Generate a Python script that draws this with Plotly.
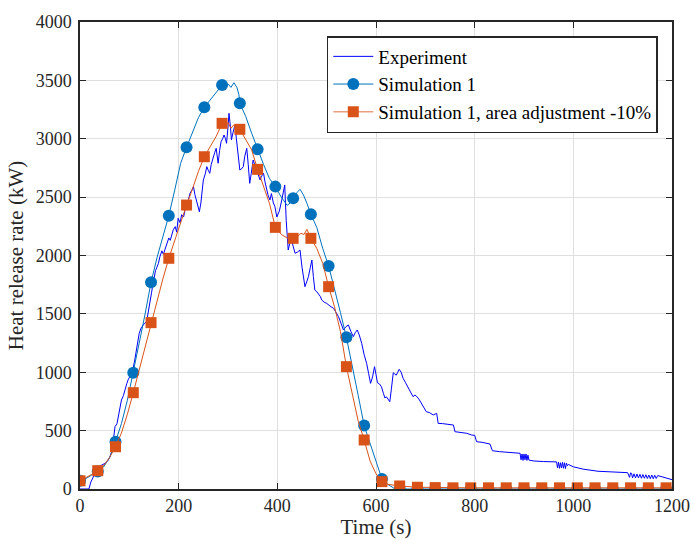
import plotly.graph_objects as go

# ---------------- data ----------------
exp_t = [0, 18, 22, 27, 32, 37, 44, 51, 56, 61, 65, 68, 71, 75, 80, 84, 88, 92, 95, 98,
         101, 104, 108, 111, 115, 118, 120, 124, 128, 131, 135, 139, 142, 145, 147, 150,
         153, 156, 159, 162, 166, 169, 172, 176, 180, 183, 186, 189, 193, 196, 199, 203,
         206, 210, 213, 217, 220, 223, 227, 230, 233, 236, 239, 242, 245, 248, 250, 254,
         257, 260, 263, 266, 270, 273, 276, 278, 280, 283, 286, 289, 292, 295, 297, 300,
         302, 305, 307, 310, 314, 317, 319, 321, 324, 327, 331, 334, 338, 341, 344, 347,
         351, 354, 358, 361, 365, 368, 372, 375, 378, 381, 385, 388, 392, 395, 399, 404,
         409, 412, 415, 418, 422, 425, 429, 432, 436, 441, 446, 450, 453, 456, 460, 463,
         467, 470, 473, 476, 480, 483, 487, 490, 495, 500, 505, 509, 514, 519, 524, 529,
         534, 539, 544, 549, 554, 558, 562, 566, 571, 576, 581, 585, 589, 593, 597, 600,
         603, 607, 611, 615, 618, 621, 624, 628, 631, 635, 638, 641, 644, 647, 651, 655,
         660, 665, 670, 675, 679, 682, 687, 692, 697, 702, 708, 716, 723, 726, 735, 745,
         757, 760, 770, 784, 794, 800, 804, 815, 831, 836, 850, 870, 888, 892, 894, 896,
         898, 900, 902, 904, 906, 908, 910, 915, 920, 940, 966, 968, 970, 972, 974, 976,
         978, 980, 982, 984, 986, 988, 990, 1000, 1020, 1050, 1081, 1110, 1114, 1116, 1118,
         1120, 1123, 1126, 1129, 1132, 1135, 1138, 1141, 1144, 1147, 1150, 1153, 1156, 1159,
         1162, 1165, 1168, 1171, 1175, 1180, 1185, 1190, 1196, 1200]
exp_v = [0, 0, 60, 105, 150, 190, 205, 220, 240, 277, 330, 420, 534, 560, 680, 762, 800, 870, 905, 940,
         962, 1000, 1040, 1105, 1200, 1290, 1333, 1380, 1405, 1420, 1433, 1520, 1590, 1680, 1733, 1800,
         1870, 1900, 1933, 1990, 2040, 2010, 2047, 2100, 2150, 2130, 2190, 2220, 2247, 2200, 2319, 2280,
         2350, 2330, 2390, 2420, 2480, 2533, 2560, 2589, 2520, 2475, 2420, 2375, 2450, 2580, 2647, 2700,
         2761, 2730, 2704, 2780, 2846, 2880, 2918, 2850, 2790, 2900, 2975, 3000, 3032, 3000, 2961, 3100,
         3218, 3100, 2990, 3050, 3118, 3000, 2932, 2850, 2732, 2740, 2761, 2850, 2918, 2780, 2618, 2700,
         2818, 2780, 2732, 2690, 2647, 2680, 2704, 2630, 2561, 2520, 2475, 2530, 2450, 2420, 2330, 2380,
         2475, 2550, 2604, 2300, 2047, 2100, 2133, 2080, 2019, 2030, 2047, 1900, 1800, 1733, 1780, 1819,
         1900, 1961, 1820, 1704, 1690, 1676, 1650, 1619, 1600, 1590, 1570, 1560, 1548, 1510, 1476, 1420,
         1362, 1390, 1405, 1350, 1305, 1340, 1362, 1320, 1248, 1150, 1076, 990, 905, 960, 1048, 980,
         910, 900, 876, 820, 780, 790, 770, 748, 850, 996, 985, 975, 1000, 1025, 1000, 948,
         910, 871, 830, 791, 805, 795, 770, 734, 700, 662, 655, 634, 648, 562, 560, 555,
         548, 491, 485, 477, 462, 460, 405, 400, 385, 328, 320, 315, 311, 306, 250, 300,
         245, 300, 250, 300, 245, 290, 248, 245, 240, 235, 232, 180, 230, 177, 225, 180,
         228, 178, 225, 175, 222, 200, 210, 190, 170, 152, 148, 140, 100, 138, 134,
         95, 130, 95, 128, 95, 126, 92, 124, 92, 122, 90, 120, 88, 120,
         88, 118, 90, 115, 110, 100, 95, 90, 83, 80]

sim1_t = [0, 12, 24, 36, 48, 60, 72, 84, 96, 108, 120, 132, 144, 156, 168, 180, 192, 204, 216,
          228, 240, 252, 264, 276, 288, 294, 300, 306, 312, 318, 322, 324, 336, 348, 360, 372,
          384, 396, 408, 420, 426, 432, 440, 446, 453, 460, 468, 480, 492, 504, 516, 528, 540,
          552, 564, 576, 588, 600, 612, 624, 636, 648, 684, 720, 756, 792, 828, 864, 900, 936,
          972, 1008, 1044, 1080, 1116, 1152, 1188, 1200]
sim1_v = [70, 90, 120, 150, 190, 270, 405, 560, 760, 996, 1250, 1500, 1770, 1980, 2160, 2341, 2560, 2790, 2927,
          3060, 3180, 3269, 3330, 3400, 3460, 3430, 3470, 3440, 3480, 3440, 3380, 3304, 3190, 3047, 2910, 2780,
          2660, 2590, 2500, 2430, 2450, 2490, 2540, 2567, 2518, 2447, 2353, 2240, 2060, 1910, 1720, 1510, 1299,
          1060, 800, 543, 380, 238, 86, 40, 8, 0, 0, 0, 0, 0, 0, 0, 0, 0,
          0, 0, 0, 0, 0, 0, 0, 0]

sim2_t = [0, 12, 24, 36, 48, 60, 72, 84, 96, 108, 120, 132, 144, 156, 168, 180, 192, 204, 216,
          228, 240, 252, 264, 276, 288, 294, 300, 306, 312, 318, 324, 336, 348, 360, 372, 384,
          396, 408, 420, 432, 440, 448, 454, 460, 468, 480, 492, 504, 516, 528, 540, 552, 564,
          576, 588, 600, 612, 624, 636, 648, 684, 720, 756, 792, 828, 864, 900, 936, 972, 1008,
          1044, 1080, 1116, 1152, 1188, 1200]
sim2_v = [70, 95, 125, 157, 200, 270, 362, 480, 640, 825, 1020, 1220, 1425, 1620, 1800, 1976, 2130, 2280, 2432,
          2570, 2720, 2846, 2930, 3020, 3132, 3100, 3140, 3090, 3120, 3080, 3081, 2990, 2904, 2738, 2590, 2447,
          2241, 2180, 2150, 2147, 2160, 2190, 2180, 2224, 2147, 2060, 1933, 1733, 1560, 1348, 1048, 800, 580,
          420, 240, 130, 63, 40, 30, 26, 15, 12, 10, 10, 10, 10, 10, 10, 10, 10,
          10, 10, 10, 10, 10, 10]

marker_t = [0, 36, 72, 108, 144, 180, 216, 252, 288, 324, 360, 396, 432, 468, 504, 540, 576,
            612, 648, 684, 720, 756, 792, 828, 864, 900, 936, 972, 1008, 1044, 1080, 1116, 1152, 1188]

names = ["Experiment", "Simulation 1", "Simulation 1, area adjustment -10%"]
x_ticks = [0, 200, 400, 600, 800, 1000, 1200]
y_ticks = [0, 500, 1000, 1500, 2000, 2500, 3000, 3500, 4000]

# ---------------- style ----------------
C_EXP = "#0000FF"
C_S1 = "#0072BD"
C_S2 = "#D95319"
FONT = "Liberation Serif"
INK = "#262626"


def pick(ts, vs, keep):
    d = dict(zip(ts, vs))
    return [t for t in keep if t in d], [d[t] for t in keep if t in d]


fig = go.Figure()

fig.add_trace(go.Scatter(x=exp_t, y=exp_v, mode="lines", name=names[0],
                         line=dict(color=C_EXP, width=1), showlegend=True))

# Simulation 1
fig.add_trace(go.Scatter(x=sim1_t, y=sim1_v, mode="lines", line=dict(color=C_S1, width=1),
                         showlegend=False, hoverinfo="skip"))
mt, mv = pick(sim1_t, sim1_v, marker_t)
fig.add_trace(go.Scatter(x=mt, y=mv, mode="markers", showlegend=False,
                         marker=dict(symbol="circle", size=12, color=C_S1, line=dict(width=0))))
fig.add_trace(go.Scatter(x=[None], y=[None], mode="lines+markers", name=names[1],
                         line=dict(color=C_S1, width=1),
                         marker=dict(symbol="circle", size=12, color=C_S1, line=dict(width=0))))

# Simulation 1, area adjustment
fig.add_trace(go.Scatter(x=sim2_t, y=sim2_v, mode="lines", line=dict(color=C_S2, width=1),
                         showlegend=False, hoverinfo="skip"))
mt, mv = pick(sim2_t, sim2_v, marker_t)
fig.add_trace(go.Scatter(x=mt, y=mv, mode="markers", showlegend=False,
                         marker=dict(symbol="square", size=11, color=C_S2, line=dict(width=0))))
fig.add_trace(go.Scatter(x=[None], y=[None], mode="lines+markers", name=names[2],
                         line=dict(color="#E8A080", width=1.5),
                         marker=dict(symbol="square", size=11, color=C_S2, line=dict(width=0))))

axis_common = dict(
    showline=True, linecolor=INK, linewidth=1.5, mirror="ticks",
    ticks="inside", ticklen=6, tickwidth=1.2, tickcolor=INK,
    showgrid=True, gridcolor="#DFDFDF", gridwidth=1, zeroline=False,
    automargin=False,
    tickfont=dict(family=FONT, size=18, color=INK),
)

fig.update_xaxes(range=[0, 1200], tickvals=x_ticks, ticktext=[str(v) for v in x_ticks],
                 title=dict(text="Time (s)", font=dict(family=FONT, size=21, color=INK),
                            standoff=2),
                 **axis_common)
fig.update_yaxes(range=[0, 4000], tickvals=y_ticks, ticktext=[str(v) for v in y_ticks],
                 ticklabelstandoff=3,
                 title=dict(text="Heat release rate (kW)", font=dict(family=FONT, size=21, color=INK),
                            standoff=6),
                 **axis_common)

fig.update_layout(
    width=691, height=539,
    margin=dict(l=80, r=19, t=22, b=50),
    paper_bgcolor="white", plot_bgcolor="white",
    font=dict(family=FONT, size=18, color=INK),
    showlegend=True,
    legend=dict(x=0.976, y=0.970, xanchor="right", yanchor="top",
                bgcolor="white", bordercolor=INK, borderwidth=1.5,
                font=dict(family=FONT, size=19, color="#000000"),
                tracegroupgap=0, itemwidth=40),
)

fig.write_html("out.html", config={"displayModeBar": False},
               post_script="document.body.style.margin='0';document.body.style.padding='0';")
